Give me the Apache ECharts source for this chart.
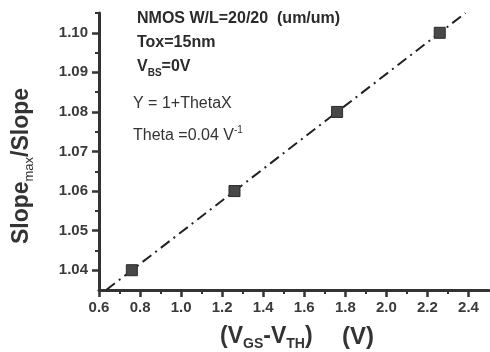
<!DOCTYPE html>
<html>
<head>
<meta charset="utf-8">
<script src="https://cdn.jsdelivr.net/npm/echarts@6/dist/echarts.min.js"></script>
<style>html,body{margin:0;padding:0;background:#fff;}#c{width:490px;height:352px;}</style>
</head>
<body>
<div id="c"></div>
<script>
// Data
const xValues = [0.76, 1.26, 1.76, 2.26];
const yValues = [1.04, 1.06, 1.08, 1.10];
const fitX = [0.635, 2.385];
const fitY = [1.035, 1.105];
const xTicks = [0.6, 0.8, 1.0, 1.2, 1.4, 1.6, 1.8, 2.0, 2.2, 2.4];
const xMinorTicks = [0.7, 0.9, 1.1, 1.3, 1.5, 1.7, 1.9, 2.1, 2.3];
const yTicks = [1.04, 1.05, 1.06, 1.07, 1.08, 1.09, 1.10];
const yMinorTicks = [1.045, 1.055, 1.065, 1.075, 1.085, 1.095, 1.105];

const FONT = 'Liberation Sans, Arial, sans-serif';
const AX = '#333';
const chart = echarts.init(document.getElementById('c'));

const xBase = {min: 0.6, max: 2.5, type: 'value', splitLine: {show: false}, position: 'bottom'};
const yBase = {min: 1.035, max: 1.105, type: 'value', splitLine: {show: false}, position: 'left'};

chart.setOption({
  animation: false,
  backgroundColor: '#fff',
  grid: {left: 99, right: 1, top: 13, bottom: 62},
  xAxis: [
    Object.assign({}, xBase, {
      axisLine: {show: true, onZero: false, lineStyle: {color: AX, width: 3}},
      axisTick: {show: true, customValues: xTicks, length: 7, lineStyle: {color: AX, width: 2.5}},
      axisLabel: {customValues: xTicks, margin: 10, color: '#3a3a3a', fontFamily: FONT, fontSize: 15, fontWeight: 'bold',
        formatter: v => v.toFixed(1)}
    }),
    Object.assign({}, xBase, {
      axisLine: {show: false},
      axisTick: {show: true, customValues: xMinorTicks, length: 4, lineStyle: {color: AX, width: 2}},
      axisLabel: {show: false}
    })
  ],
  yAxis: [
    Object.assign({}, yBase, {
      axisLine: {show: true, onZero: false, lineStyle: {color: AX, width: 3}},
      axisTick: {show: true, customValues: yTicks, length: 7, lineStyle: {color: AX, width: 2.5}},
      axisLabel: {customValues: yTicks, margin: 11, color: '#3a3a3a', fontFamily: FONT, fontSize: 15, fontWeight: 'bold',
        formatter: v => v.toFixed(2)}
    }),
    Object.assign({}, yBase, {
      axisLine: {show: false},
      axisTick: {show: true, customValues: yMinorTicks, length: 4, lineStyle: {color: AX, width: 2}},
      axisLabel: {show: false}
    })
  ],
  series: [
    {
      type: 'line',
      data: fitX.map((x, i) => [x, fitY[i]]),
      symbol: 'none',
      lineStyle: {color: '#222', width: 2, type: [11, 5, 2, 5]},
      z: 2
    },
    {
      type: 'scatter',
      data: xValues.map((x, i) => [x, yValues[i]]),
      symbol: 'rect',
      symbolSize: 11,
      itemStyle: {color: '#484848', borderColor: '#2a2a2a', borderWidth: 1, opacity: 1},
      z: 3
    }
  ],
  graphic: [
    {type: 'text', left: 137, top: 11, style: {text: 'NMOS W/L=20/20  (um/um)', font: 'bold 16px ' + FONT, fill: '#2a2a2a'}},
    {type: 'text', left: 137, top: 35, style: {text: 'Tox=15nm', font: 'bold 16px ' + FONT, fill: '#2a2a2a'}},
    {type: 'text', left: 137, top: 59, style: {
      text: '{m|V}{s|BS}{m|=0V}', fill: '#2a2a2a',
      rich: {
        m: {fontFamily: FONT, fontSize: 16, fontWeight: 'bold', lineHeight: 22, verticalAlign: 'middle', fill: '#2a2a2a'},
        s: {fontFamily: FONT, fontSize: 10, fontWeight: 'bold', lineHeight: 12, verticalAlign: 'bottom', fill: '#2a2a2a'}
      }}},
    {type: 'text', left: 133, top: 96, style: {text: 'Y = 1+ThetaX', font: '16px ' + FONT, fill: '#333'}},
    {type: 'text', left: 133, top: 125, style: {
      text: '{m|Theta =0.04 V}{p|-1}', fill: '#333',
      rich: {
        m: {fontFamily: FONT, fontSize: 16, lineHeight: 22, verticalAlign: 'middle', fill: '#333'},
        p: {fontFamily: FONT, fontSize: 10, lineHeight: 12, verticalAlign: 'top', fill: '#333'}
      }}},
    {type: 'text', x: 220, y: 337, style: {
      text: '{m|(V}{s|GS}{m|-V}{s|TH}{m|)}', align: 'left', verticalAlign: 'middle',
      rich: {
        m: {fontFamily: FONT, fontSize: 23, fontWeight: 'bold', lineHeight: 28, verticalAlign: 'middle', fill: '#333'},
        s: {fontFamily: FONT, fontSize: 14, fontWeight: 'bold', lineHeight: 15, verticalAlign: 'bottom', fill: '#333'}
      }}},
    {type: 'text', x: 342, y: 337, style: {
      text: '(V)', align: 'left', verticalAlign: 'middle', font: 'bold 24px ' + FONT, fill: '#333'}},
    {type: 'text', x: 22, y: 166, rotation: Math.PI / 2, style: {
      text: '{m|Slope}{s|max}{m|/Slope}', align: 'center', verticalAlign: 'middle',
      rich: {
        m: {fontFamily: FONT, fontSize: 23, fontWeight: 'bold', lineHeight: 28, verticalAlign: 'middle', fill: '#333'},
        s: {fontFamily: FONT, fontSize: 13, lineHeight: 15, verticalAlign: 'bottom', fill: '#333'}
      }}}
  ]
});
</script>
</body>
</html>
